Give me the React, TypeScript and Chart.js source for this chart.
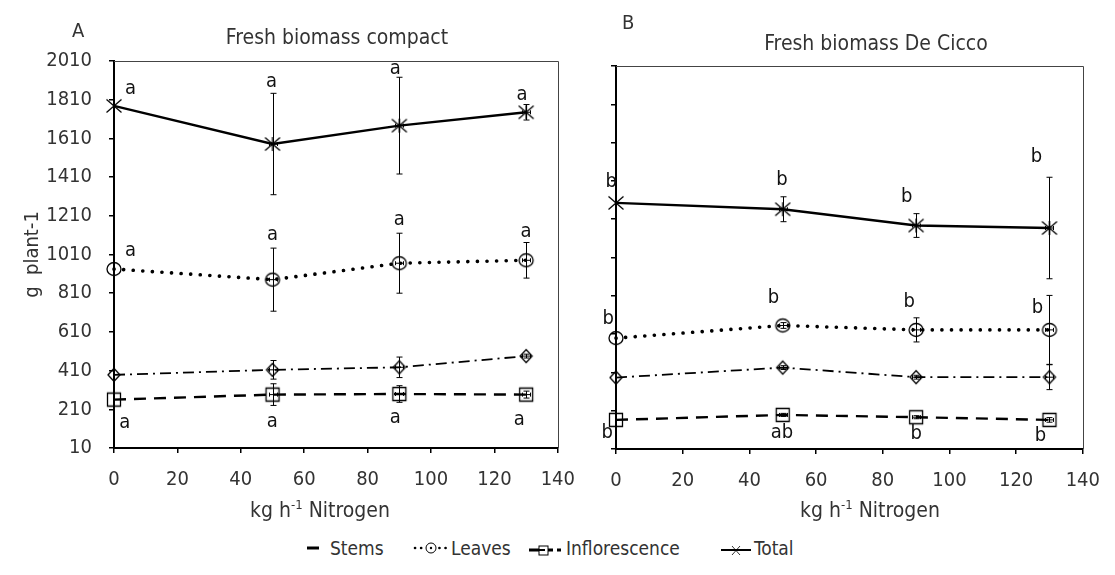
import React, { useEffect, useRef } from "react";
import { Chart, registerables } from "chart.js";

Chart.register(...registerables);

const FONT = '"Liberation Sans Narrow", "Arial Narrow", "DejaVu Sans Condensed", "Liberation Sans", Arial, sans-serif';

// ---------- data ----------
const nitrogen = [0, 50, 90, 130];
const xTicks = [0, 20, 40, 60, 80, 100, 120, 140];
const yTicks = [10, 210, 410, 610, 810, 1010, 1210, 1410, 1610, 1810, 2010];
const seriesNames = ["Stems", "Leaves", "Inflorescence", "Total"];

// Panel A – Fresh biomass compact
const stemsA = [388, 414, 427, 485];
const stemsAErr = [0, 48, 53, 10];
const leavesA = [935, 880, 965, 980];
const leavesAErr = [0, 163, 155, 92];
const inflA = [260, 286, 289, 286];
const inflAErr = [0, 56, 43, 18];
const totalA = [1778, 1581, 1676, 1745];
const totalAErr = [0, 262, 250, 40];

// Panel B – Fresh biomass De Cicco
const stemsB = [383, 435, 385, 385];
const stemsBErr = [0, 10, 10, 65];
const leavesB = [589, 655, 632, 632];
const leavesBErr = [0, 15, 63, 180];
const inflB = [162, 188, 176, 162];
const inflBErr = [0, 8, 8, 12];
const totalB = [1295, 1262, 1177, 1164];
const totalBErr = [0, 65, 62, 265];

// significance letters: [x (kg N), y (g plant-1), letter]
const lettersA: [number, number, string][] = [
  [5.2, 1865, "a"], [49.7, 1901, "a"], [88.7, 1969, "a"], [128.7, 1834, "a"],
  [5.2, 1028, "a"], [50, 1111, "a"], [90, 1188, "a"], [130, 1126, "a"],
  [3.4, 139, "a"], [49.9, 144, "a"], [88.7, 165, "a"], [127.8, 155, "a"],
];
const lettersB: [number, number, string][] = [
  [-1.4, 1404, "b"], [49.8, 1415, "b"], [87.2, 1326, "b"], [126.1, 1535, "b"],
  [-2.3, 689, "b"], [47.2, 798, "b"], [87.9, 778, "b"], [126.4, 746, "b"],
  [-2.6, 94, "b"], [49.8, 94, "ab"], [90, 88, "b"], [127.3, 78, "b"],
];

// ---------- styles ----------
type Series = { name: string; values: number[]; err: number[]; marker: string; dash: number[]; width: number; cap: CanvasLineCap };

function seriesFor(stems: number[], stemsErr: number[], leaves: number[], leavesErr: number[], infl: number[], inflErr: number[], total: number[], totalErr: number[]): Series[] {
  return [
    { name: seriesNames[0], values: stems, err: stemsErr, marker: "diamond", dash: [11, 5, 2, 5], width: 1.8, cap: "butt" },
    { name: seriesNames[1], values: leaves, err: leavesErr, marker: "circle", dash: [0.1, 9.5], width: 3.6, cap: "round" },
    { name: seriesNames[2], values: infl, err: inflErr, marker: "square", dash: [12, 8], width: 2.4, cap: "butt" },
    { name: seriesNames[3], values: total, err: totalErr, marker: "star", dash: [], width: 2.4, cap: "butt" },
  ];
}

function buildMarker(kind: string): HTMLCanvasElement {
  const c = document.createElement("canvas");
  const s = 20;
  c.width = s;
  c.height = s;
  const g = c.getContext("2d")!;
  g.strokeStyle = "#000";
  g.lineWidth = 1.3;
  const m = s / 2;
  g.beginPath();
  if (kind === "circle") {
    g.ellipse(m, m, 7, 6.5, 0, 0, Math.PI * 2);
  } else if (kind === "diamond") {
    g.moveTo(m - 6, m);
    g.lineTo(m, m - 6.5);
    g.lineTo(m + 6, m);
    g.lineTo(m, m + 6.5);
    g.closePath();
  } else if (kind === "square") {
    g.rect(m - 6.5, m - 6.5, 13, 13);
  } else {
    g.moveTo(m - 7.5, m - 6.5);
    g.lineTo(m + 7.5, m + 6.5);
    g.moveTo(m + 7.5, m - 6.5);
    g.lineTo(m - 7.5, m + 6.5);
    g.moveTo(m, m - 7);
    g.lineTo(m, m + 7);
  }
  g.stroke();
  return c;
}

const extrasPlugin = {
  id: "extras",
  afterDatasetsDraw(chart: any) {
    const o = chart.options.plugins.extras;
    const { ctx, chartArea: a } = chart;
    const x = chart.scales.x;
    const y = chart.scales.y;
    ctx.save();
    // top / right frame
    ctx.strokeStyle = "#444";
    ctx.lineWidth = 1;
    ctx.beginPath();
    ctx.moveTo(a.left, Math.round(a.top) + 0.5);
    ctx.lineTo(Math.round(a.right) + 0.5, Math.round(a.top) + 0.5);
    ctx.lineTo(Math.round(a.right) + 0.5, a.bottom);
    ctx.stroke();
    // error bars
    ctx.strokeStyle = "#000";
    ctx.lineWidth = 1;
    (o.series as Series[]).forEach((s) =>
      s.values.forEach((v, j) => {
        const e = s.err[j];
        if (!e) return;
        const px = Math.round(x.getPixelForValue(nitrogen[j])) + 0.5;
        const t = y.getPixelForValue(v + e);
        const b = y.getPixelForValue(v - e);
        const c = y.getPixelForValue(v);
        ctx.beginPath();
        ctx.moveTo(px, t);
        ctx.lineTo(px, b);
        ctx.moveTo(px - 3, t);
        ctx.lineTo(px + 3, t);
        ctx.moveTo(px - 3, b);
        ctx.lineTo(px + 3, b);
        ctx.moveTo(px - 4, c);
        ctx.lineTo(px + 4, c);
        ctx.moveTo(px - 4, c - 2);
        ctx.lineTo(px - 4, c + 2);
        ctx.moveTo(px + 4, c - 2);
        ctx.lineTo(px + 4, c + 2);
        ctx.stroke();
      })
    );
    // letters
    ctx.fillStyle = "#111";
    ctx.font = `20px ${FONT}`;
    ctx.textAlign = "center";
    ctx.textBaseline = "middle";
    (o.letters as [number, number, string][]).forEach(([lx, ly, t]) => {
      ctx.fillText(t, x.getPixelForValue(lx), y.getPixelForValue(ly));
    });
    // x title with superscript
    const main1 = "kg h";
    const sup = "-1";
    const main2 = " Nitrogen";
    ctx.fillStyle = "#333";
    ctx.textAlign = "left";
    ctx.textBaseline = "alphabetic";
    ctx.font = `21px ${FONT}`;
    const w1 = ctx.measureText(main1).width;
    const w3 = ctx.measureText(main2).width;
    ctx.font = `13px ${FONT}`;
    const w2 = ctx.measureText(sup).width;
    let sx = o.xTitleCenter - (w1 + w2 + w3) / 2;
    const base = o.xTitleY;
    ctx.font = `21px ${FONT}`;
    ctx.fillText(main1, sx, base);
    sx += w1;
    ctx.font = `13px ${FONT}`;
    ctx.fillText(sup, sx, base - 8);
    sx += w2;
    ctx.font = `21px ${FONT}`;
    ctx.fillText(main2, sx, base);
    ctx.restore();
  },
};

type PanelProps = {
  left: number;
  width: number;
  height: number;
  area: { left: number; top: number; right: number; bottom: number };
  series: Series[];
  letters: [number, number, string][];
  showYLabels: boolean;
  xTitleCenter: number;
};

function Panel(p: PanelProps) {
  const ref = useRef<HTMLCanvasElement>(null);
  useEffect(() => {
    const markers: Record<string, HTMLCanvasElement> = {
      circle: buildMarker("circle"),
      diamond: buildMarker("diamond"),
      square: buildMarker("square"),
      star: buildMarker("star"),
    };
    const yWidth = p.area.left - p.left;
    const xHeight = p.height - p.area.bottom;
    const chart = new Chart(ref.current!, {
      type: "line",
      data: {
        datasets: p.series.map((s) => ({
          label: s.name,
          data: s.values.map((v, j) => ({ x: nitrogen[j], y: v })),
          borderColor: "#000",
          backgroundColor: "#000",
          borderWidth: s.width,
          borderDash: s.dash,
          borderCapStyle: s.cap,
          pointStyle: markers[s.marker] as any,
          pointRadius: 8,
          tension: 0,
          fill: false,
          clip: false as any,
        })),
      },
      options: {
        animation: false,
        responsive: false,
        devicePixelRatio: 1,
        layout: { padding: { left: 0, top: p.area.top, right: p.left + p.width - p.area.right, bottom: 0 } },
        plugins: {
          legend: { display: false },
          tooltip: { enabled: false },
          title: { display: false },
          extras: { series: p.series, letters: p.letters, xTitleCenter: p.xTitleCenter - p.left, xTitleY: 517 },
        } as any,
        scales: {
          x: {
            type: "linear",
            min: 0,
            max: 140,
            afterBuildTicks: (s: any) => {
              s.ticks = xTicks.map((v) => ({ value: v }));
            },
            afterFit: (s: any) => {
              s.height = xHeight;
            },
            border: { display: true, color: "#000", width: 2 },
            grid: { drawOnChartArea: false, drawTicks: true, tickLength: 5, color: "#000", lineWidth: 1.5 },
            ticks: { color: "#333", font: { family: FONT, size: 20 }, padding: 15, maxRotation: 0, callback: (v: any) => String(v) },
          },
          y: {
            type: "linear",
            min: 10,
            max: 2010,
            afterBuildTicks: (s: any) => {
              s.ticks = yTicks.map((v) => ({ value: v }));
            },
            afterFit: (s: any) => {
              s.width = yWidth;
            },
            border: { display: true, color: "#000", width: 2 },
            grid: { drawOnChartArea: false, drawTicks: true, tickLength: 5, color: "#000", lineWidth: 1.5 },
            ticks: { display: p.showYLabels, color: "#333", font: { family: FONT, size: 20 }, padding: 17, callback: (v: any) => String(v) },
            title: {
              display: p.showYLabels,
              text: "g  plant-1",
              color: "#333",
              font: { family: FONT, size: 20 },
              padding: { top: 21, bottom: 0 },
            },
          },
        },
      },
      plugins: [extrasPlugin as any],
    });
    return () => chart.destroy();
  }, []);
  return (
    <canvas
      ref={ref}
      width={p.width}
      height={p.height}
      style={{ position: "absolute", left: p.left, top: 0, width: p.width, height: p.height }}
    />
  );
}

const textStyle: React.CSSProperties = {
  position: "absolute",
  fontFamily: FONT,
  color: "#333",
  lineHeight: 1,
  whiteSpace: "nowrap",
};

function LegendSymbol({ kind }: { kind: string }) {
  if (kind === "Stems") {
    return (
      <svg width={14} height={20} style={{ display: "block" }}>
        <line x1={1} y1={10} x2={13} y2={10} stroke="#000" strokeWidth={3} />
      </svg>
    );
  }
  if (kind === "Leaves") {
    return (
      <svg width={36} height={20} style={{ display: "block" }}>
        <line x1={2} y1={10} x2={34} y2={10} stroke="#000" strokeWidth={2.6} strokeDasharray="0.1 6" strokeLinecap="round" />
        <circle cx={18} cy={10} r={5} fill="white" stroke="#000" strokeWidth={1} />
        <circle cx={18} cy={10} r={1.2} fill="#000" />
      </svg>
    );
  }
  if (kind === "Inflorescence") {
    return (
      <svg width={34} height={20} style={{ display: "block" }}>
        <line x1={1} y1={12} x2={33} y2={12} stroke="#000" strokeWidth={3} strokeDasharray="10 4" />
        <rect x={11} y={8} width={9} height={9} fill="white" stroke="#000" strokeWidth={1} />
        <line x1={11} y1={12} x2={17} y2={12} stroke="#000" strokeWidth={2} />
      </svg>
    );
  }
  return (
    <svg width={32} height={20} style={{ display: "block" }}>
      <line x1={1} y1={12} x2={31} y2={12} stroke="#000" strokeWidth={2} />
      <line x1={12} y1={8} x2={20} y2={17} stroke="#000" strokeWidth={0.8} />
      <line x1={20} y1={8} x2={12} y2={17} stroke="#000" strokeWidth={0.8} />
    </svg>
  );
}

const legendSymbolX = [306, 413, 528, 720];
const legendTextX = [330, 451, 566, 754];

export default function App() {
  const seriesA = seriesFor(stemsA, stemsAErr, leavesA, leavesAErr, inflA, inflAErr, totalA, totalAErr);
  const seriesB = seriesFor(stemsB, stemsBErr, leavesB, leavesBErr, inflB, inflBErr, totalB, totalBErr);
  return (
    <div style={{ position: "absolute", left: 0, top: 0, width: 1115, height: 575, background: "#fff", overflow: "hidden" }}>
      <Panel
        left={0}
        width={590}
        height={525}
        area={{ left: 114, top: 61, right: 573, bottom: 448 }}
        series={seriesA}
        letters={lettersA}
        showYLabels={true}
        xTitleCenter={320}
      />
      <Panel
        left={580}
        width={535}
        height={525}
        area={{ left: 616, top: 66, right: 1100, bottom: 449 }}
        series={seriesB}
        letters={lettersB}
        showYLabels={false}
        xTitleCenter={870}
      />
      <div style={{ ...textStyle, left: 72, top: 20, fontSize: 20 }}>A</div>
      <div style={{ ...textStyle, left: 622, top: 12, fontSize: 20 }}>B</div>
      <div style={{ ...textStyle, left: 337, top: 27, fontSize: 21, transform: "translateX(-50%)" }}>Fresh biomass compact</div>
      <div style={{ ...textStyle, left: 876, top: 33, fontSize: 21, transform: "translateX(-50%)" }}>Fresh biomass De Cicco</div>
      {seriesNames.map((n, i) => (
        <React.Fragment key={n}>
          <div style={{ position: "absolute", left: legendSymbolX[i], top: 538 }}>
            <LegendSymbol kind={n} />
          </div>
          <div style={{ ...textStyle, left: legendTextX[i], top: 539, fontSize: 19 }}>{n}</div>
        </React.Fragment>
      ))}
    </div>
  );
}
